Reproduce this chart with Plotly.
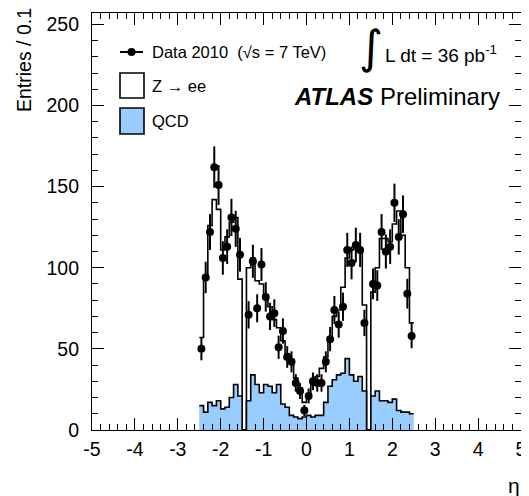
import numpy as np
import plotly.graph_objects as go

# ---------------- data (entries per 0.1 in eta) ----------------
eta_min = -2.5
bin_width = 0.1

data_counts = [50, 94, 122, 162, 151, 106, 113, 131, 124, 108,
               None,
               71, 104, 75, 102, 82, 70, 72, 51, 61, 45, 42, 29, 24, 12,
               21, 30, 29, 29, 42, 56, 74, 65, 76, 111, 103, 114, 111, 66,
               None,
               90, 89, 122, 110, 113, 140, 119, 133, 84, 58]

zee_plus_qcd = [57, 93, 126, 142, 136, 111, 119, 128, 131, 93,
                0,
                100, 106, 92, 90, 82, 76, 68, 63, 55, 47, 41, 32, 26, 17,
                20, 28, 33, 38, 45, 57, 70, 74, 88, 106, 111, 113, 112, 77,
                0,
                85, 100, 118, 118, 116, 127, 135, 120, 100, 66]

qcd = [15, 11, 17, 15, 18, 13, 14, 20, 28, 21,
       0,
       18, 34, 28, 23, 28, 27, 23, 28, 16, 14, 9, 8, 7, 8,
       9, 8, 9, 9, 17, 27, 31, 34, 35, 44, 34, 30, 33, 24,
       0,
       21, 24, 18, 18, 17, 19, 12, 11, 11, 10]

x_ticks = [-5, -4, -3, -2, -1, 0, 1, 2, 3, 4, 5]
y_ticks = [0, 50, 100, 150, 200, 250]

# ---------------- derived ----------------
nb = len(data_counts)
edges = [round(eta_min + i * bin_width, 2) for i in range(nb + 1)]
centers = [round(eta_min + (i + 0.5) * bin_width, 3) for i in range(nb)]

def step(vals):
    return edges, list(vals) + [vals[-1]]

# page has an 8px body margin: build the figure 8px smaller and shift layout
OFF = 8
W, H = 529 - OFF, 496 - OFF
P_LEFT, P_RIGHT, P_TOP, P_BOTTOM = 92, 521, 13, 430   # plot frame in page pixels
ML = P_LEFT - OFF
MT = P_TOP - OFF
MR = W - (P_RIGHT - OFF)
MB = H - (P_BOTTOM - OFF)
PW, PH = P_RIGHT - P_LEFT, P_BOTTOM - P_TOP
def px(X):
    return (X - P_LEFT) / PW
def py(Y):
    return (P_BOTTOM - Y) / PH

FONT = "Liberation Sans"
BLUE = "#99CCFF"

fig = go.Figure()

xs, ys = step(zee_plus_qcd)
fig.add_trace(go.Scatter(x=xs, y=ys, mode="lines", line=dict(shape="hv", color="black", width=1.6),
                         fill="tozeroy", fillcolor="white", name="Z → ee", hoverinfo="skip"))
xs, ys = step(qcd)
fig.add_trace(go.Scatter(x=xs, y=ys, mode="lines", line=dict(shape="hv", color="black", width=1.6),
                         fill="tozeroy", fillcolor=BLUE, name="QCD", hoverinfo="skip"))

err = [None if v is None else float(np.sqrt(v)) for v in data_counts]
fig.add_trace(go.Scatter(x=centers, y=data_counts, mode="markers",
                         marker=dict(color="black", size=8),
                         error_y=dict(type="data", array=err, visible=True, color="black",
                                      thickness=2, width=0),
                         name="Data 2010"))

# ---------------- legend (manual, ROOT style) ----------------
shapes = [
    dict(type="line", xref="paper", yref="paper", x0=px(120), x1=px(143), y0=py(52), y1=py(52),
         line=dict(color="black", width=2)),
    dict(type="rect", xref="paper", yref="paper", x0=px(120), x1=px(144), y0=py(98), y1=py(73),
         line=dict(color="black", width=1.6), fillcolor="white"),
    dict(type="rect", xref="paper", yref="paper", x0=px(120), x1=px(144), y0=py(134), y1=py(108),
         line=dict(color="black", width=1.6), fillcolor=BLUE),
]
fig.add_trace(go.Scatter(x=[px(131.5)], y=[py(52)], xaxis="x2", yaxis="y2", mode="markers",
                         marker=dict(color="black", size=8), hoverinfo="skip"))

ann = [
    dict(text="Data 2010  (√s = 7 TeV)", x=px(150), y=py(52), xanchor="left", yanchor="middle",
         font=dict(size=16.5)),
    dict(text="Z → ee", x=px(150), y=py(86), xanchor="left", yanchor="middle", font=dict(size=16.5)),
    dict(text="QCD", x=px(150), y=py(121), xanchor="left", yanchor="middle", font=dict(size=16.5)),
    dict(text="∫", x=px(371), y=py(47), xanchor="center", yanchor="middle",
         font=dict(size=46, family="DejaVu Sans")),
    dict(text="L dt = 36 pb<sup>-1</sup>", x=px(383), y=py(54), xanchor="left", yanchor="middle",
         font=dict(size=19)),
    dict(text="<b><i>ATLAS</i></b> Preliminary", x=px(292), y=py(97), xanchor="left", yanchor="middle",
         font=dict(size=24)),
    dict(text="Entries / 0.1", x=px(24), y=py(60), xanchor="center", yanchor="middle", textangle=-90,
         font=dict(size=19.5)),
    dict(text="η", x=px(514), y=py(485), xanchor="center", yanchor="middle", font=dict(size=21)),
]
for a in ann:
    a.update(xref="paper", yref="paper", showarrow=False)
    a["font"].setdefault("family", FONT)
    a["font"]["color"] = "black"

axis_common = dict(showgrid=False, zeroline=False, showline=True, linecolor="black", linewidth=1.2,
                   mirror="allticks", ticks="inside", tickcolor="black", tickwidth=1,
                   automargin=False,
                   tickfont=dict(size=19.5, family=FONT, color="black"))

fig.update_layout(
    width=W, height=H,
    margin=dict(l=ML, r=MR, t=MT, b=MB, autoexpand=False),
    paper_bgcolor="white", plot_bgcolor="white",
    showlegend=False,
    xaxis=dict(range=[-5, 5], tickvals=x_ticks, ticktext=[str(t) for t in x_ticks], ticklen=12,
               minor=dict(ticks="inside", dtick=0.2, ticklen=6, tickcolor="black", tickwidth=1),
               ticklabelstandoff=1, **axis_common),
    yaxis=dict(range=[0, 257], tickvals=y_ticks, ticktext=[str(t) for t in y_ticks], ticklen=12,
               minor=dict(ticks="inside", dtick=10, ticklen=6, tickcolor="black", tickwidth=1),
               ticklabelstandoff=8, **axis_common),
    xaxis2=dict(range=[0, 1], domain=[0, 1], visible=False, overlaying="x"),
    yaxis2=dict(range=[0, 1], domain=[0, 1], visible=False, overlaying="y"),
    shapes=shapes,
    annotations=ann,
)

fig.write_html("out.html")
